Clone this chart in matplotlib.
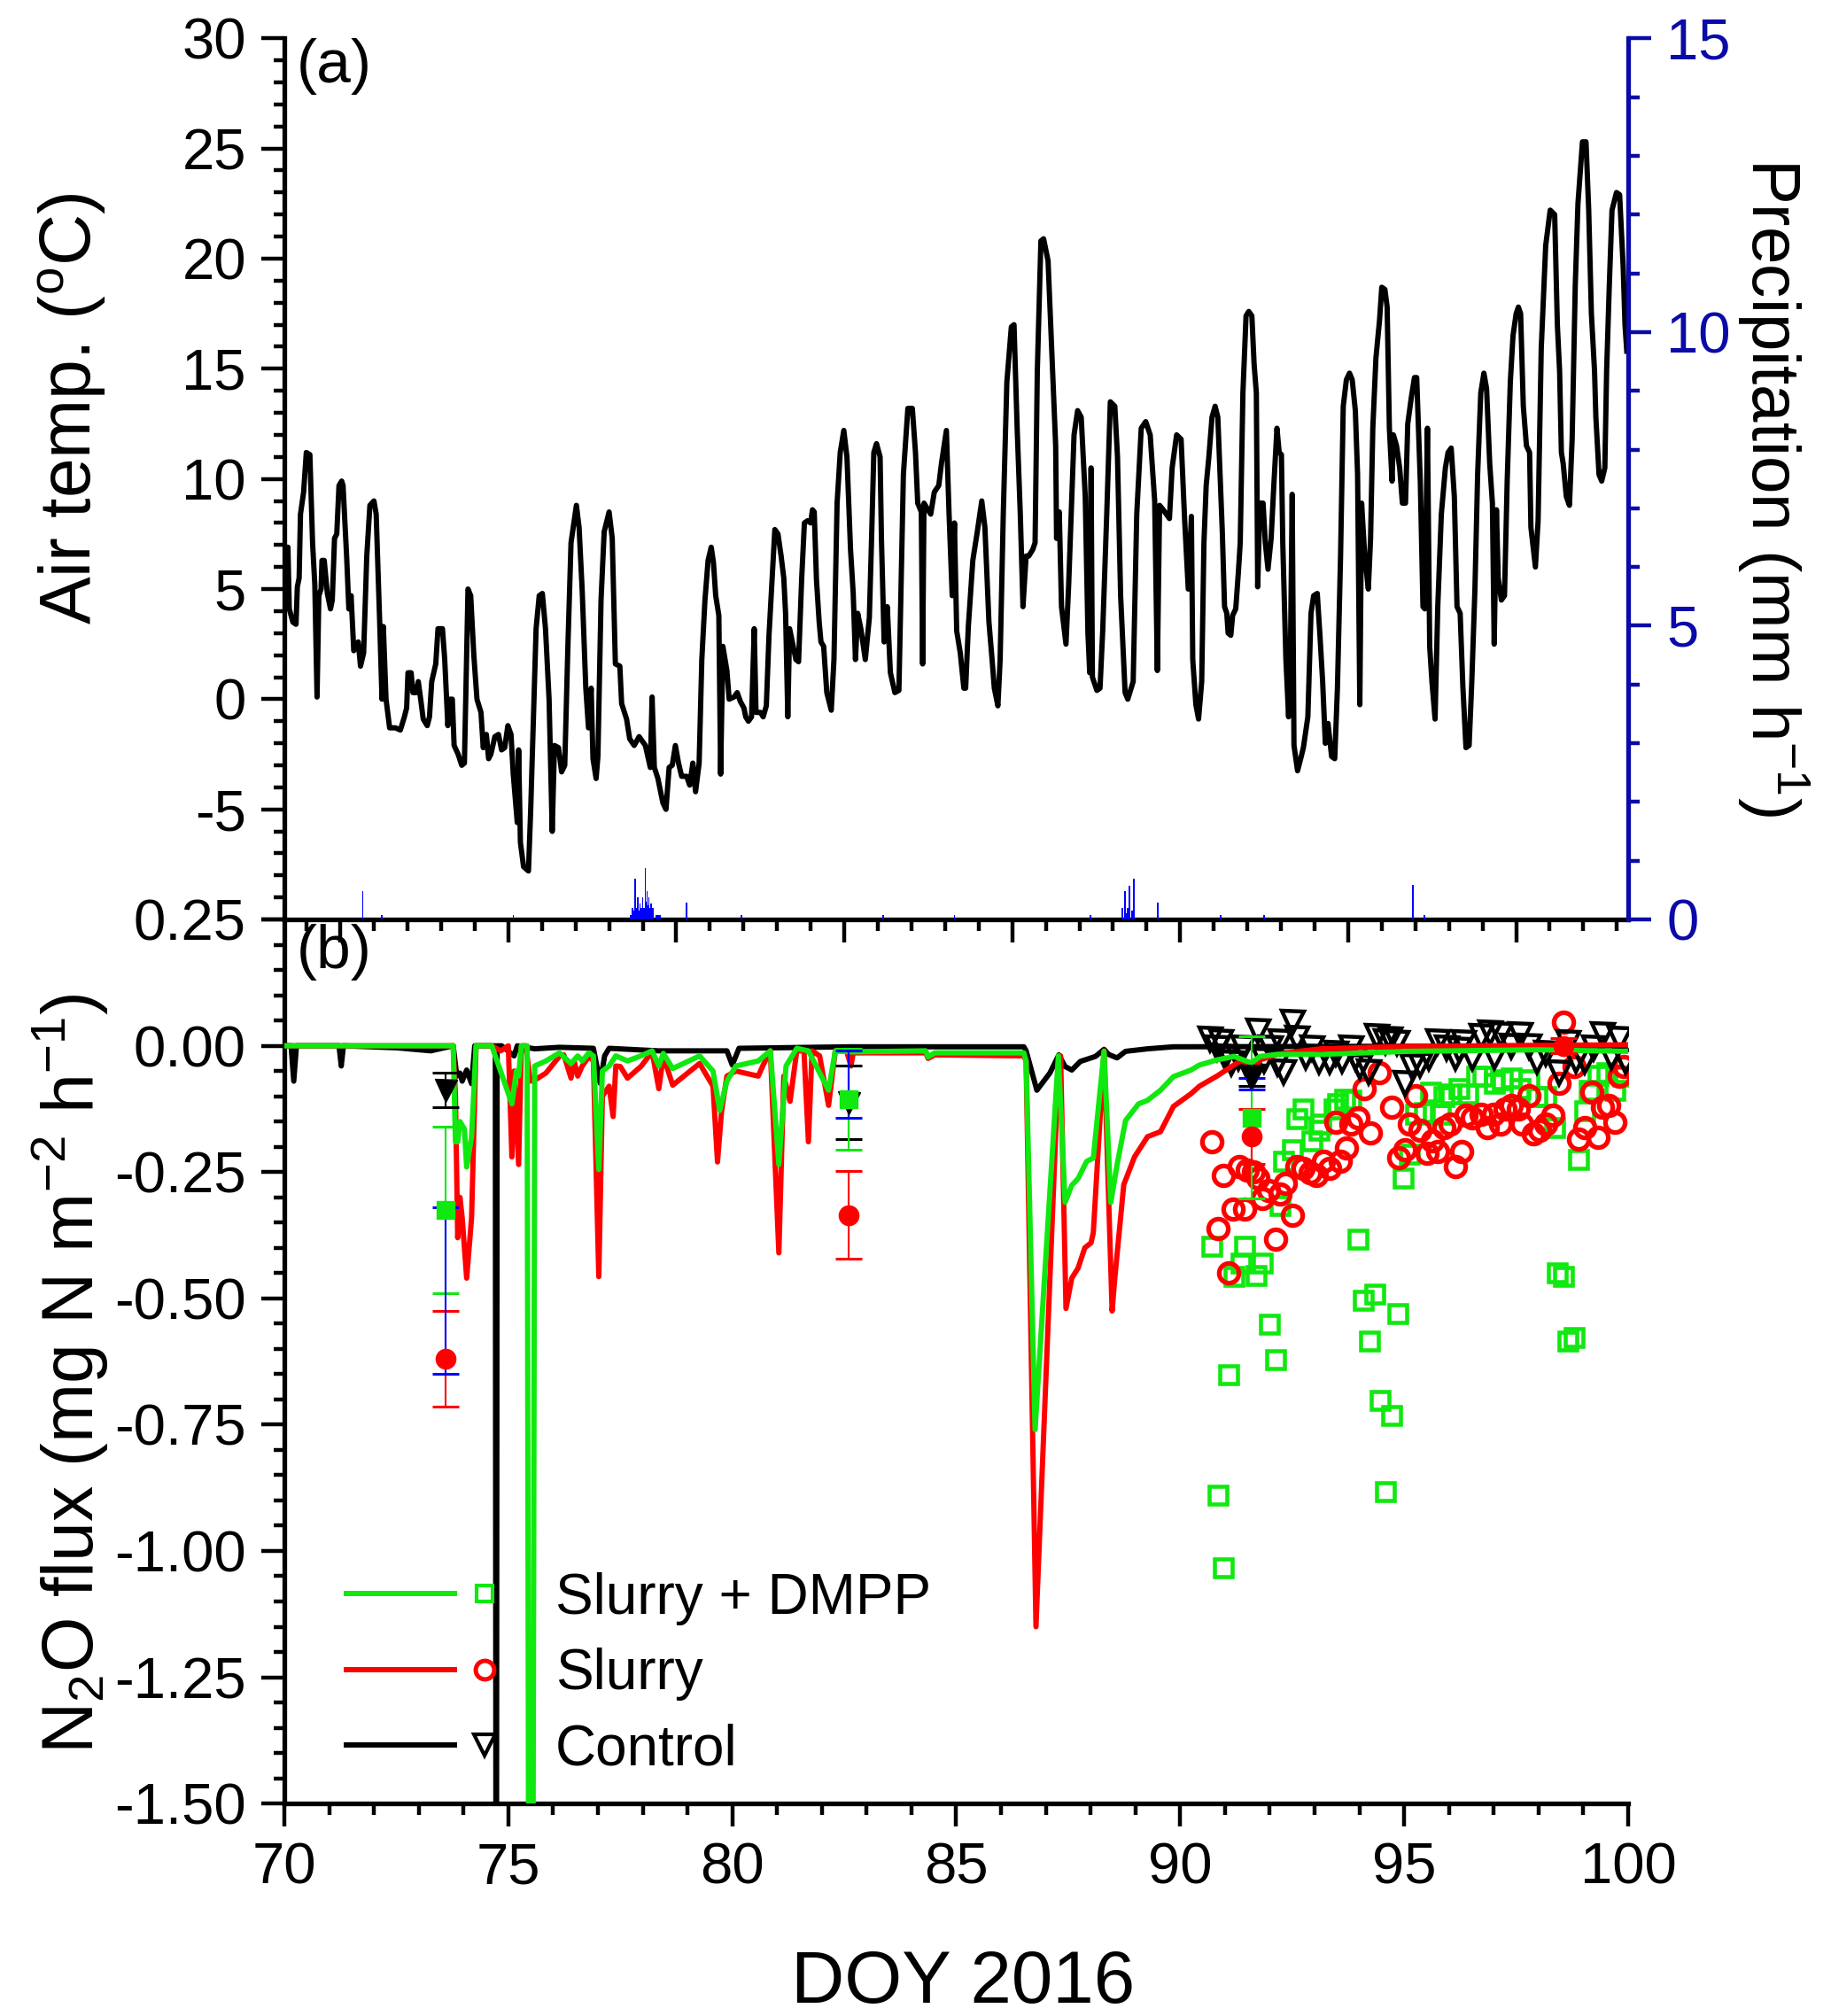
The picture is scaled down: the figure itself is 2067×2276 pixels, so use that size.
import numpy as np
import matplotlib
matplotlib.use("Agg")
import matplotlib.pyplot as plt
from matplotlib.ticker import MultipleLocator, FuncFormatter
from matplotlib.legend_handler import HandlerTuple
from matplotlib.lines import Line2D

plt.rcParams['font.family'] = ['Liberation Sans', 'DejaVu Sans']
plt.rcParams['mathtext.fontset'] = 'custom'
plt.rcParams['mathtext.rm'] = 'Liberation Sans'
plt.rcParams['mathtext.it'] = 'Liberation Sans:italic'
plt.rcParams['mathtext.bf'] = 'Liberation Sans:bold'
plt.rcParams['mathtext.default'] = 'regular'
plt.rcParams['axes.unicode_minus'] = False

# ---- panel (a): air temperature ----
temp_day = [70.03, 70.08, 70.11, 70.19, 70.26, 70.29, 70.33, 70.36, 70.43, 70.49,
            70.57, 70.63, 70.68, 70.73, 70.77, 70.82, 70.84, 70.89, 70.96, 71.03,
            71.07, 71.12, 71.17, 71.22, 71.28, 71.31, 71.39, 71.44, 71.49, 71.55,
            71.60, 71.65, 71.70, 71.77, 71.84, 71.91, 72.00, 72.05, 72.13, 72.18,
            72.21, 72.27, 72.35, 72.48, 72.59, 72.68, 72.73, 72.76, 72.83, 72.87,
            72.94, 72.99, 73.05, 73.10, 73.19, 73.24, 73.29, 73.38, 73.43, 73.53,
            73.58, 73.65, 73.69, 73.75, 73.79, 73.88, 73.96, 74.02, 74.10, 74.16,
            74.23, 74.30, 74.39, 74.44, 74.51, 74.56, 74.61, 74.70, 74.78, 74.85,
            74.92, 74.99, 75.06, 75.11, 75.20, 75.23, 75.27, 75.34, 75.45, 75.50,
            75.62, 75.69, 75.76, 75.83, 75.91, 75.98, 76.03, 76.12, 76.19, 76.26,
            76.33, 76.40, 76.47, 76.52, 76.58, 76.65, 76.73, 76.79, 76.85, 76.89,
            76.96, 77.00, 77.07, 77.14, 77.25, 77.32, 77.39, 77.49, 77.53, 77.64,
            77.71, 77.81, 77.92, 78.06, 78.17, 78.21, 78.26, 78.34, 78.45, 78.52,
            78.59, 78.66, 78.73, 78.80, 78.87, 78.98, 79.05, 79.12, 79.18, 79.26,
            79.32, 79.39, 79.46, 79.53, 79.58, 79.63, 79.70, 79.74, 79.79, 79.88,
            79.93, 80.04, 80.11, 80.18, 80.26,
            80.30, 80.36, 80.43, 80.49, 80.53, 80.63, 80.69, 80.76, 80.82, 80.89,
            80.95, 81.02, 81.09, 81.15, 81.19, 81.24, 81.28, 81.35, 81.42, 81.48,
            81.55, 81.61, 81.68, 81.75, 81.79, 81.83, 81.88, 81.94, 81.98, 82.04,
            82.11, 82.21, 82.27, 82.34, 82.41, 82.49, 82.56, 82.64, 82.70, 82.75,
            82.80, 82.87, 82.97, 83.06, 83.11, 83.16, 83.22, 83.30, 83.33, 83.39,
            83.46, 83.53, 83.63, 83.72, 83.82, 83.92, 84.02, 84.09, 84.14, 84.22,
            84.25, 84.28, 84.43, 84.51, 84.61, 84.67, 84.78, 84.84, 84.91, 84.96,
            85.01, 85.09, 85.17, 85.21, 85.27, 85.37, 85.47, 85.57, 85.64, 85.73,
            85.80, 85.85, 85.93, 85.98, 86.05, 86.13, 86.23, 86.29, 86.36, 86.43,
            86.49, 86.56, 86.62, 86.71, 86.76, 86.81, 86.89, 86.95, 87.05, 87.15,
            87.22, 87.24, 87.30, 87.35, 87.45, 87.51, 87.58, 87.63, 87.71, 87.79,
            87.88, 87.94, 87.98, 88.01, 88.04, 88.14, 88.21, 88.27, 88.36, 88.44,
            88.54, 88.60, 88.67, 88.77, 88.83, 88.95, 89.03, 89.13, 89.23, 89.33,
            89.43, 89.49, 89.54, 89.62, 89.76, 89.82, 89.92, 90.02, 90.10, 90.18,
            90.25, 90.28, 90.35, 90.41,
            90.48, 90.53, 90.58, 90.64, 90.71, 90.78, 90.84, 90.89, 90.94, 90.99,
            91.04, 91.07, 91.13, 91.17, 91.24, 91.30, 91.34, 91.40, 91.47, 91.53,
            91.60, 91.65, 91.70, 91.73, 91.78, 91.85, 91.90, 91.96, 92.03, 92.09,
            92.16, 92.21, 92.26, 92.29, 92.36, 92.42, 92.46, 92.50, 92.54, 92.62,
            92.69, 92.75, 92.85, 92.92, 92.98, 93.06, 93.12, 93.18, 93.24, 93.30,
            93.38, 93.45, 93.51, 93.58, 93.64, 93.71, 93.78, 93.84, 93.91, 93.96,
            94.01, 94.05, 94.12, 94.20, 94.25, 94.30, 94.37, 94.45, 94.50, 94.57,
            94.62, 94.67, 94.73, 94.76, 94.83, 94.90, 94.96, 95.03, 95.08, 95.16,
            95.23, 95.28, 95.36, 95.42, 95.46, 95.52, 95.57, 95.62, 95.69, 95.75,
            95.83, 95.92, 95.98, 96.05, 96.12, 96.18, 96.25, 96.31, 96.38, 96.45,
            96.51, 96.58, 96.64, 96.71, 96.78, 96.84, 96.91, 96.97, 97.01, 97.06,
            97.10, 97.17, 97.24, 97.30, 97.37, 97.43, 97.50, 97.55, 97.60, 97.66,
            97.73, 97.80, 97.83, 97.93, 97.99, 98.06, 98.16, 98.26, 98.36, 98.42,
            98.47, 98.51, 98.55, 98.62, 98.69, 98.75, 98.82, 98.88, 98.98, 99.06,
            99.12, 99.18, 99.25, 99.28, 99.35, 99.41, 99.48, 99.52, 99.58, 99.64,
            99.74, 99.81, 99.89, 99.93, 99.97]
temp_c = [6.9, 6.9, 4.1, 3.5, 3.4, 5.1, 5.5, 8.4, 9.4, 11.2,
          11.1, 7.1, 5.2, 0.1, 4.7, 5.0, 6.3, 6.3, 4.8, 4.1,
          4.5, 7.3, 7.5, 9.7, 9.9, 9.7, 6.5, 4.1, 4.7, 2.2,
          2.4, 2.6, 1.5, 2.1, 6.5, 8.8, 9.0, 8.4, 3.4, 0.0,
          3.3, 0.0, -1.3, -1.3, -1.4, -0.8, -0.4, 1.2, 1.2, 0.3,
          0.3, 0.8, -0.1, -0.9, -1.2, -0.8, 0.8, 1.6, 3.2, 3.2,
          1.8, -1.2, 0.0, 0.0, -2.1, -2.5, -3.0, -2.9, 5.0, 4.7,
          2.0, 0.0, -0.6, -2.2, -1.6, -2.7, -2.5, -1.7, -1.6, -2.3,
          -2.2, -1.2, -1.6, -3.4, -5.6, -2.3, -6.5, -7.6, -7.8, -5.0,
          3.2, 4.7, 4.8, 3.2, 0.0, -6.0, -2.1, -2.2, -3.3, -3.0,
          2.4, 7.1, 8.1, 8.8, 7.8, 4.9, 0.5, -1.3, 0.5, -2.7,
          -3.6, -2.6, 4.5, 7.6, 8.5, 7.3, 1.6, 1.5, -0.2, -0.9,
          -1.8, -2.1, -1.7, -2.1, -3.1, 0.1, -3.1, -3.6, -4.7, -5.0,
          -3.1, -3.0, -2.1, -2.9, -3.5, -3.5, -3.9, -2.9, -4.2, -2.9,
          1.8, 4.5, 6.3, 6.9, 6.2, 4.7, 3.8, -3.4, 2.4, 1.3,
          0.0, 0.1, 0.3, -0.1, -0.4,
          -0.8, -1.0, -0.8, 3.2, -0.6, -0.6, -0.8, -0.3, 2.9, 5.5,
          7.7, 7.5, 6.5, 5.5, 3.9, -0.8, 3.2, 2.5, 1.8, 1.7,
          5.5, 8.0, 8.1, 8.0, 8.6, 8.5, 5.4, 3.5, 2.6, 2.4,
          0.3, -0.5, 1.8, 8.9, 11.2, 12.2, 11.0, 6.8, 4.8, 1.8,
          3.9, 3.2, 1.8, 3.7, 7.3, 11.2, 11.6, 11.0, 7.3, 2.6,
          4.2, 1.2, 0.3, 0.4, 10.2, 13.2, 13.2, 11.2, 8.9, 8.5,
          1.6, 8.9, 8.4, 9.4, 9.7, 10.7, 12.2, 8.4, 4.7, 8.0,
          3.1, 2.1, 0.5, 0.5, 3.3, 6.3, 7.6, 9.0, 7.8, 3.5,
          1.8, 0.5, -0.3, 1.8, 8.4, 14.4, 16.9, 17.0, 12.3, 8.4,
          4.2, 6.5, 6.5, 6.8, 7.1, 14.9, 20.8, 20.9, 19.9, 14.9,
          11.5, 7.3, 8.5, 4.2, 2.5, 5.2, 9.2, 12.0, 13.1, 12.8,
          9.2, 3.0, 1.2, 10.5, 1.0, 0.4, 0.5, 3.1, 8.4, 13.5,
          13.3, 11.0, 4.7, 0.3, 0.0, 0.8, 8.4, 12.3, 12.6, 12.0,
          9.0, 1.3, 8.8, 8.6, 8.2, 10.5, 12.0, 11.8, 8.1, 5.0,
          8.3, 1.8, -0.25, -0.9,
          0.8, 7.1, 9.7, 11.0, 12.8, 13.3, 12.8, 10.2, 7.6, 4.2,
          3.9, 3.0, 2.9, 3.8, 4.1, 5.8, 7.1, 13.9, 17.4, 17.6,
          17.4, 15.2, 13.9, 5.1, 8.9, 8.9, 7.1, 5.9, 7.3, 9.7,
          12.3, 11.2, 11.1, 7.1, 1.8, -0.8, 1.8, 9.3, -2.1, -3.25,
          -2.7, -2.2, -0.8, 3.9, 4.7, 4.8, 2.9, 0.8, -2.0, -1.1,
          -2.6, -2.7, 0.5, 6.5, 13.3, 14.5, 14.8, 14.5, 13.1, 10.2,
          -0.25, 8.9, 6.5, 5.0, 7.3, 12.3, 15.5, 17.2, 18.7, 18.6,
          17.8, 12.3, 9.9, 12.0, 11.5, 10.5, 8.9, 8.9, 12.5, 13.7,
          14.6, 14.6, 9.9, 4.2, 4.1, 12.3, 2.4, 0.8, -0.9, 4.2,
          8.4, 10.5, 11.2, 11.4, 9.2, 4.2, 3.9, 0.6, -2.2, -2.1,
          0.8, 5.0, 10.2, 13.9, 14.8, 14.1, 10.7, 8.9, 2.5, 8.6,
          5.5, 4.5, 4.7, 9.9, 14.4, 16.5, 17.5, 17.8, 17.5, 13.3,
          11.5, 11.2, 7.8, 6.0, 8.1, 15.9, 20.6, 22.2, 22.0, 17.0,
          14.9, 11.2, 10.7, 9.2, 8.8, 11.8, 18.8, 22.5, 25.3, 25.3,
          22.2, 17.5, 14.9, 12.8, 10.2, 9.9, 10.5, 14.9, 18.8, 22.2,
          23.0, 22.9, 19.6, 17.0, 15.8]

# precipitation (mm h-1)
rain_day = [71.75, 72.18, 75.11, 77.73, 77.77, 77.80, 77.83, 77.86, 77.89, 77.92,
            77.94, 77.97, 78.00, 78.03, 78.06, 78.08, 78.10, 78.12, 78.14, 78.16,
            78.18, 78.20, 78.22, 78.31, 78.35, 78.39, 78.98, 80.20, 83.37, 84.96,
            87.99, 88.71, 88.77, 88.80, 88.83, 88.87, 88.92, 88.96, 89.50, 90.90,
            91.87, 95.20, 95.45]
rain_mm = [0.49, 0.08, 0.08, 0.08, 0.19, 0.15, 0.69, 0.20, 0.38, 0.15,
           0.28, 0.20, 0.38, 0.20, 0.88, 0.30, 0.48, 0.25, 0.38, 0.20,
           0.28, 0.15, 0.19, 0.08, 0.08, 0.08, 0.29, 0.08, 0.08, 0.08,
           0.08, 0.19, 0.49, 0.10, 0.19, 0.58, 0.15, 0.69, 0.29, 0.08,
           0.08, 0.59, 0.08]

# ---- panel (b): N2O flux ----
ctl_day = [70.00, 70.15, 70.21, 70.27, 71.22, 71.27, 71.32, 72.51, 73.27, 73.77,
           73.85, 73.92, 73.97, 74.07, 74.18, 74.25, 74.71, 74.73, 74.75, 74.85,
           75.13, 75.20, 75.59, 76.14, 76.90, 77.05, 77.15, 77.25, 78.36, 79.88,
           80.00, 80.15, 82.60, 86.51, 86.56, 86.80, 87.09, 87.29, 87.43, 87.58,
           87.77, 88.11, 88.30, 88.40, 88.59, 88.78, 89.27, 89.85, 100.0]
ctl_val = [0.0, 0.0, -0.07, 0.0, 0.0, -0.04, 0.0, -0.004, -0.01, 0.0,
           -0.06, -0.054, -0.07, -0.048, -0.075, 0.0, 0.0, -2.5, 0.0, 0.0,
           -0.02, 0.0, -0.006, -0.003, -0.005, -0.074, -0.02, -0.005, -0.01, -0.01,
           -0.038, -0.005, -0.002, -0.002, -0.01, -0.088, -0.054, -0.018, -0.041, -0.048,
           -0.031, -0.021, -0.007, -0.017, -0.024, -0.011, -0.006, -0.002, 0.0]

slr_day = [70.00, 73.77, 73.82, 73.87, 73.92, 73.97, 74.07, 74.18, 74.28, 74.63,
           74.83, 75.00, 75.08, 75.13, 75.23, 75.29, 75.39, 75.49, 75.59, 75.84,
           76.14, 76.24, 76.40, 76.47, 76.55, 76.65, 76.80, 76.90, 77.02, 77.10,
           77.25, 77.34, 77.40, 77.50, 77.66, 77.96, 78.21, 78.36, 78.46, 78.67,
           79.27, 79.57, 79.67, 79.76, 79.88, 80.08, 80.58, 80.68, 80.85, 81.04,
           81.15, 81.29, 81.44, 81.60, 81.70, 81.78, 81.95, 82.15, 82.30, 82.55,
           82.65, 82.70, 84.32, 84.37, 84.52, 86.51, 86.56, 86.78, 87.29, 87.33,
           87.45, 87.58, 87.72, 87.87, 88.01, 88.06, 88.30, 88.48, 88.54, 88.74,
           88.98, 89.27, 89.56, 89.85, 90.24, 90.43, 90.82, 91.20, 91.40, 91.59,
           91.78, 92.17, 92.65, 93.14, 95.07, 100.0]
slr_val = [0.0, 0.0, -0.10, -0.38, -0.30, -0.34, -0.46, -0.34, 0.0, 0.0,
           -0.01, 0.0, -0.22, -0.05, -0.235, 0.0, 0.0, -0.07, -0.068, -0.054,
           -0.021, -0.018, -0.064, -0.03, -0.06, -0.04, -0.021, -0.03, -0.457, -0.10,
           -0.08, -0.14, -0.04, -0.041, -0.064, -0.041, -0.012, -0.085, -0.02, -0.078,
           -0.035, -0.08, -0.23, -0.13, -0.06, -0.05, -0.06, -0.04, -0.01, -0.41,
           -0.06, -0.11, -0.01, -0.01, -0.19, -0.01, -0.02, -0.118, -0.01, -0.01,
           -0.04, -0.014, -0.014, -0.025, -0.018, -0.02, -0.03, -1.15, -0.02, -0.02,
           -0.52, -0.46, -0.44, -0.40, -0.39, -0.37, -0.01, -0.525, -0.46, -0.275,
           -0.22, -0.18, -0.17, -0.12, -0.095, -0.08, -0.06, -0.038, -0.028, -0.055,
           -0.028, -0.017, -0.011, -0.006, -0.001, 0.002]

dmp_day = [70.00, 73.77, 73.82, 73.87, 73.92, 74.02, 74.07, 74.18, 74.28, 74.63,
           75.08, 75.18, 75.23, 75.29, 75.42, 75.47, 75.53, 75.59, 75.84, 76.14,
           76.40, 76.55, 76.65, 76.80, 76.90, 77.02, 77.10, 77.25, 77.40, 77.66,
           77.96, 78.21, 78.36, 78.46, 78.67, 79.27, 79.57, 79.72, 79.88, 80.08,
           80.58, 80.85, 81.04, 81.20, 81.44, 81.70, 82.15, 82.30, 82.65, 84.32,
           84.37, 84.52, 86.51, 86.56, 86.76, 87.28, 87.43, 87.58, 87.72, 87.91,
           88.06, 88.30, 88.45, 88.59, 88.78, 89.07, 89.27, 89.56, 89.85, 90.24,
           90.43, 90.82, 91.20, 91.59, 91.78, 92.17, 93.14, 95.07, 97.97, 100.0]
dmp_val = [0.0, 0.0, -0.19, -0.19, -0.15, -0.165, -0.24, -0.18, 0.0, 0.0,
           -0.115, -0.05, -0.06, 0.0, 0.0, -2.5, -2.5, -0.04, -0.03, -0.014,
           -0.035, -0.02, -0.03, -0.014, -0.02, -0.245, -0.05, -0.04, -0.02, -0.03,
           -0.02, -0.01, -0.04, -0.015, -0.045, -0.02, -0.05, -0.128, -0.07, -0.04,
           -0.03, -0.01, -0.235, -0.04, -0.005, -0.01, -0.088, -0.01, -0.012, -0.01,
           -0.022, -0.014, -0.014, -0.03, -0.76, -0.02, -0.31, -0.276, -0.263, -0.229,
           -0.222, -0.011, -0.31, -0.236, -0.148, -0.115, -0.108, -0.088, -0.061, -0.048,
           -0.038, -0.028, -0.021, -0.034, -0.021, -0.017, -0.017, -0.011, -0.008, -0.011]

# chamber measurements (open symbols)
ctl_pt_day = [90.67, 90.82, 90.91, 91.01, 91.15, 91.30, 91.40, 91.59, 91.73, 91.88,
              92.02, 92.17, 92.22, 92.31, 92.51, 92.60, 92.80, 92.94, 93.09, 93.33,
              93.48, 93.62, 93.81, 93.91, 94.01, 94.20, 94.39, 94.59, 94.68, 94.83,
              95.02, 95.17, 95.36, 95.55, 95.75, 95.94, 96.14, 96.23, 96.33, 96.52,
              96.72, 96.91, 97.01, 97.15, 97.39, 97.59, 97.78, 97.97, 98.17, 98.46,
              98.65, 98.84, 99.04, 99.23, 99.42, 99.62, 99.81, 99.95]
ctl_pt_val = [0.013, -0.004, 0.009, -0.021, -0.034, -0.024, -0.004, -0.061, 0.030, -0.028,
              -0.004, -0.034, 0.009, -0.051, 0.046, 0.016, -0.021, -0.004, -0.031, -0.031,
              -0.014, -0.028, -0.004, -0.024, -0.041, -0.051, 0.019, 0.009, 0.013, 0.006,
              -0.074, -0.041, -0.038, -0.024, 0.009, -0.004, -0.024, -0.007, 0.006, -0.024,
              0.019, 0.026, -0.021, 0.023, -0.001, 0.023, -0.001, -0.031, -0.014, -0.054,
              0.006, -0.028, -0.031, -0.004, 0.023, -0.021, 0.013, -0.031]

slr_pt_day = [90.70, 90.84, 90.96, 91.09, 91.18, 91.32, 91.44, 91.49, 91.64, 91.73,
              91.83, 91.98, 92.12, 92.22, 92.34, 92.51, 92.60, 92.75, 92.90, 93.04,
              93.19, 93.33, 93.48, 93.57, 93.72, 93.81, 93.96, 94.10, 94.25, 94.44,
              94.73, 94.88, 95.02, 95.12, 95.25, 95.36, 95.51, 95.63, 95.75, 95.89,
              96.02, 96.14, 96.28, 96.38, 96.52, 96.72, 96.86, 96.99, 97.15, 97.25,
              97.39, 97.54, 97.63, 97.78, 97.88, 98.02, 98.17, 98.31, 98.46, 98.55,
              98.79, 98.89, 99.04, 99.18, 99.33, 99.42, 99.57, 99.71, 99.81, 99.91]
slr_pt_val = [-0.190, -0.362, -0.256, -0.450, -0.323, -0.239, -0.323, -0.246, -0.249, -0.262,
              -0.303, -0.286, -0.383, -0.293, -0.272, -0.336, -0.239, -0.242, -0.252, -0.256,
              -0.229, -0.242, -0.152, -0.229, -0.202, -0.155, -0.142, -0.085, -0.172, -0.054,
              -0.121, -0.222, -0.205, -0.155, -0.098, -0.168, -0.212, -0.189, -0.209, -0.162,
              -0.155, -0.239, -0.209, -0.138, -0.142, -0.135, -0.162, -0.135, -0.155, -0.125,
              -0.118, -0.125, -0.155, -0.098, -0.175, -0.168, -0.155, -0.138, -0.074, 0.046,
              -0.041, -0.185, -0.162, -0.091, -0.182, -0.121, -0.118, -0.152, -0.061, -0.041]

dmp_pt_day = [90.70, 90.84, 90.97, 91.08, 91.20, 91.35, 91.44, 91.69, 91.83, 92.00,
              92.12, 92.22, 92.31, 92.51, 92.60, 92.75, 92.94, 93.09, 93.14, 93.43,
              93.52, 93.67, 93.81, 93.96, 94.08, 94.22, 94.35, 94.47, 94.59, 94.73,
              94.86, 94.97, 95.12, 95.26, 95.46, 95.60, 95.80, 95.89, 96.04, 96.23,
              96.43, 96.62, 96.76, 97.01, 97.20, 97.39, 97.59, 97.78, 97.97, 98.17,
              98.36, 98.41, 98.55, 98.65, 98.79, 98.89, 99.04, 99.13, 99.33, 99.52,
              99.71, 99.88]
dmp_pt_val = [-0.397, -0.890, -1.034, -0.652, -0.457, -0.430, -0.397, -0.454, -0.430, -0.551,
              -0.621, -0.316, -0.229, -0.205, -0.145, -0.125, -0.189, -0.168, -0.155, -0.125,
              -0.115, -0.105, -0.108, -0.383, -0.504, -0.585, -0.491, -0.702, -0.883, -0.732,
              -0.531, -0.262, -0.215, -0.135, -0.132, -0.091, -0.135, -0.101, -0.095, -0.085,
              -0.095, -0.061, -0.061, -0.074, -0.068, -0.064, -0.085, -0.068, -0.101, -0.101,
              -0.162, -0.450, -0.457, -0.585, -0.578, -0.225, -0.128, -0.088, -0.058, -0.054,
              -0.088, -0.061]

# manual chamber means +- sd (filled symbols)
mean_day = [73.59, 82.60, 91.59]
ctl_mean = [-0.088, -0.112, -0.060]
ctl_sd = [0.034, 0.073, 0.020]
dmp_mean = [-0.325, -0.105, -0.142]
dmp_sd = [0.165, 0.100, 0.160]
slr_mean_day = [73.59, 82.60, 91.59, 98.55]
slr_mean = [-0.620, -0.335, -0.179, 0.000]
slr_sd = [0.095, 0.087, 0.054, 0.015]
blue_mid = [-0.485, -0.076, -0.075]
blue_sd = [0.165, 0.067, 0.012]

GREEN = '#10E810'
RED = '#FF0000'
BLUE_AX = '#0A0AA8'
BLUE_BAR = '#0000FF'
LW = 4.3

fig = plt.figure(figsize=(20.67, 22.76), dpi=100)
ax_t = fig.add_axes([0.1553, 0.5439, 0.7339, 0.4371])
ax_f = fig.add_axes([0.1553, 0.1054, 0.7339, 0.4385])
ax_f.patch.set_visible(False)
ax_p = ax_t.twinx()

# (a) temperature + rain
ax_t.plot(temp_day, temp_c, color='k', lw=LW, zorder=3)
ax_p.bar(rain_day, rain_mm, width=0.035, color=BLUE_BAR, lw=0)

ax_t.set_xlim(70, 100)
ax_t.set_ylim(-10, 30)
ax_p.set_ylim(0, 15)
ax_t.xaxis.set_major_locator(MultipleLocator(3.75))
ax_t.xaxis.set_minor_locator(MultipleLocator(0.75))
ax_t.yaxis.set_major_locator(MultipleLocator(5))
ax_t.yaxis.set_minor_locator(MultipleLocator(1))
ax_t.yaxis.set_major_formatter(FuncFormatter(lambda v, p: '' if v < -9 else '%d' % v))
ax_p.yaxis.set_major_locator(MultipleLocator(5))
ax_p.yaxis.set_minor_locator(MultipleLocator(1))

# (b) flux
ax_f.plot(dmp_pt_day, dmp_pt_val, ls='none', marker='s', ms=14, mfc='none',
          mec=GREEN, mew=3.3, zorder=2)
ax_f.plot(slr_pt_day, slr_pt_val, ls='none', marker='o', ms=16, mfc='none',
          mec=RED, mew=3.8, zorder=2.1)
ax_f.plot(ctl_pt_day, ctl_pt_val, ls='none', marker='v', ms=18, mfc='none',
          mec='k', mew=3.2, zorder=2.2)
ax_f.plot(ctl_day, ctl_val, color='k', lw=LW, zorder=3)
ax_f.plot(slr_day, slr_val, color=RED, lw=LW, zorder=3.1)
ax_f.plot(dmp_day, dmp_val, color=GREEN, lw=LW, zorder=3.2)

eb = dict(elinewidth=1.5, capsize=11, capthick=2.2, zorder=5)
ax_f.errorbar(mean_day, ctl_mean, yerr=ctl_sd, fmt='v', ms=18, color='k', **eb)
ax_f.errorbar(mean_day, dmp_mean, yerr=dmp_sd, fmt='s', ms=14, color=GREEN, **eb)
ax_f.errorbar(slr_mean_day, slr_mean, yerr=slr_sd, fmt='o', ms=16, color=RED, **eb)
ax_f.errorbar(mean_day, blue_mid, yerr=blue_sd, fmt='none', ecolor=BLUE_BAR, **eb)

ax_f.set_xlim(70, 100)
ax_f.set_ylim(-1.5, 0.25)
ax_f.xaxis.set_major_locator(MultipleLocator(5))
ax_f.xaxis.set_minor_locator(MultipleLocator(1))
ax_f.yaxis.set_major_locator(MultipleLocator(0.25))
ax_f.yaxis.set_minor_locator(MultipleLocator(0.05))
ax_f.yaxis.set_major_formatter(FuncFormatter(lambda v, p: '%.2f' % (0.0 if abs(v) < 1e-9 else v)))

# axes styling
for ax in (ax_t, ax_f):
    ax.tick_params(which='major', direction='out', length=19, width=3.2, labelsize=47, pad=12)
    ax.tick_params(which='minor', direction='out', length=9, width=3.2)
    for s in ax.spines.values():
        s.set_linewidth(3.8)
    ax.spines['top'].set_visible(False)
    ax.spines['right'].set_visible(False)
ax_t.tick_params(axis='x', labelbottom=False)

for k in ('top', 'left', 'bottom'):
    ax_p.spines[k].set_visible(False)
ax_p.spines['right'].set_color(BLUE_AX)
ax_p.spines['right'].set_linewidth(3.8)
ax_p.tick_params(which='major', direction='out', length=19, width=3.2, labelsize=47,
                 pad=12, colors=BLUE_AX)
ax_p.tick_params(which='minor', direction='out', length=9, width=3.2, colors=BLUE_AX)

ax_t.set_ylabel('Air temp. ($^{\\rm o}$C)', fontsize=58, va='center')
ax_t.yaxis.set_label_coords(-0.158, 0.58)
ax_p.set_ylabel('Precipitation (mm h$^{-1}$)', fontsize=55, rotation=270, va='center')
ax_p.yaxis.set_label_coords(1.108, 0.49)
ax_f.set_ylabel('N$_2$O flux (mg N m$^{-2}$ h$^{-1}$)', fontsize=58, va='center')
ax_f.yaxis.set_label_coords(-0.16, 0.487)
ax_f.set_xlabel('DOY 2016', fontsize=60, va='center')
ax_f.xaxis.set_label_coords(0.505, -0.203)

ax_t.text(0.009, 1.0, '(a)', transform=ax_t.transAxes, fontsize=50, ha='left', va='top')
ax_f.text(0.009, 0.995, '(b)', transform=ax_f.transAxes, fontsize=50, ha='left', va='top')

# legend: line, then symbol, then label
handles = [
    (Line2D([], [], color=GREEN, lw=LW),
     Line2D([], [], ls='none', marker='s', ms=13, mfc='none', mec=GREEN, mew=3.0)),
    (Line2D([], [], color=RED, lw=LW),
     Line2D([], [], ls='none', marker='o', ms=15, mfc='none', mec=RED, mew=3.6)),
    (Line2D([], [], color='k', lw=LW),
     Line2D([], [], ls='none', marker='v', ms=17, mfc='none', mec='k', mew=3.0)),
]
labels = ['Slurry + DMPP', 'Slurry', 'Control']
ax_f.legend(handles, labels, handler_map={tuple: HandlerTuple(ndivide=2, pad=-0.42)},
            handlelength=3.4, handletextpad=0.3, loc='upper left',
            bbox_to_anchor=(0.046, 0.262), frameon=False, borderpad=0,
            borderaxespad=0, labelspacing=0.4, fontsize=46)

fig.savefig('out.png', dpi=100)
